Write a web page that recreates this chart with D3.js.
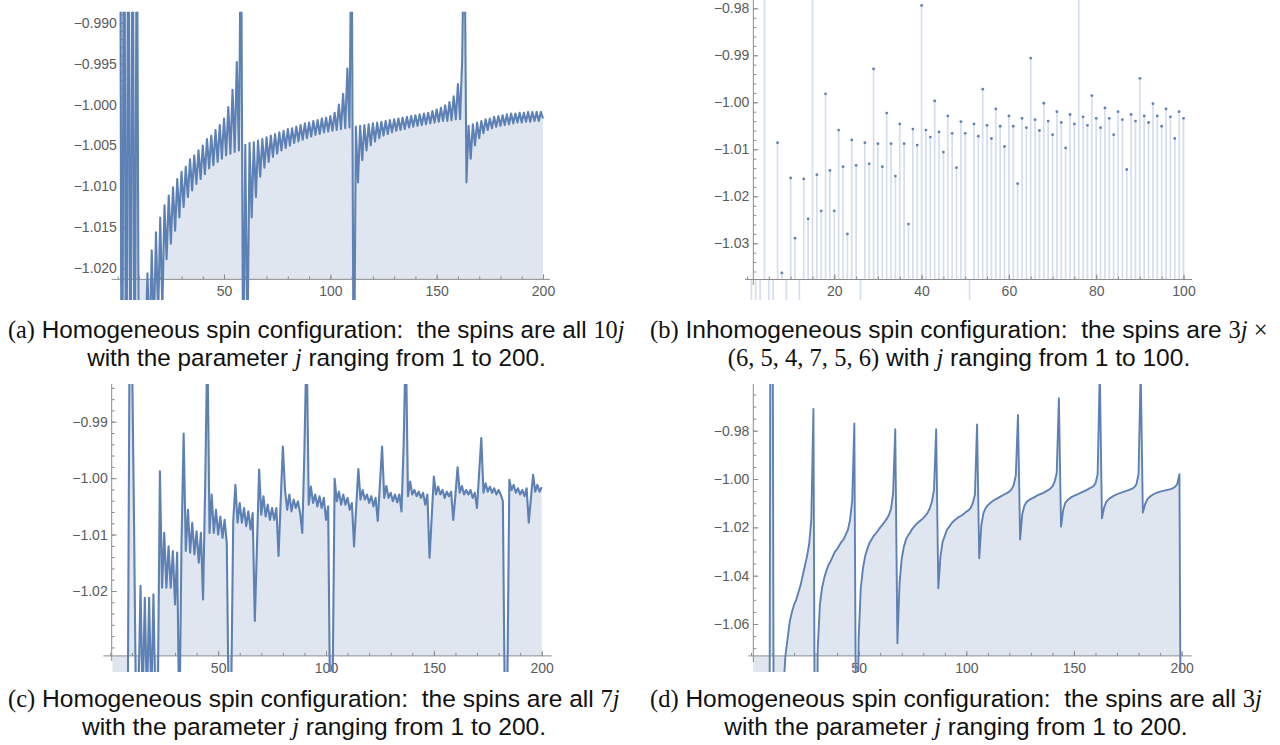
<!DOCTYPE html>
<html lang="en">
<head>
    <meta charset="UTF-8">
    <script src="https://cdnjs.cloudflare.com/ajax/libs/d3/7.8.5/d3.min.js"></script>
    <title>Spin configurations</title>
    <style>
        body { margin: 0; background: #fff; overflow: hidden; }
        svg { display: block; }
    </style>
</head>
<body>
<script>
    // ---- data: value for j = 1..N ----
    var valuesA = [
        -0.95, -1.06, -0.955, -1.055, -0.96, -1.05, -0.965, -1.045, -0.97, -1.04,
        -1.035, -1.032, -1.03, -1.0206, -1.03, -1.0178, -1.028, -1.0156, -1.026, -1.0138,
        -1.025, -1.0123, -1.0189, -1.0111, -1.017, -1.0101, -1.0154, -1.0091, -1.0138, -1.0082,
        -1.0125, -1.0076, -1.0113, -1.0067, -1.0105, -1.0062, -1.0097, -1.0056, -1.0091, -1.005,
        -1.0085, -1.0042, -1.0078, -1.0038, -1.0074, -1.0031, -1.007, -1.0025, -1.0066, -1.0017,
        -1.0062, -1.0003, -1.006, -0.9982, -1.0058, -0.9948, -1.0056, -0.975, -1.035, -1.0049,
        -1.03, -1.0047, -1.0138, -1.0046, -1.0113, -1.0044, -1.0088, -1.0042, -1.0077, -1.004,
        -1.007, -1.0038, -1.0064, -1.0036, -1.006, -1.0034, -1.0056, -1.0032, -1.0053, -1.003,
        -1.005, -1.0029, -1.0047, -1.0027, -1.0045, -1.0025, -1.0043, -1.0023, -1.0041, -1.0022,
        -1.0039, -1.002, -1.0037, -1.0019, -1.0036, -1.0017, -1.0034, -1.0016, -1.0033, -1.0014,
        -1.0032, -1.001, -1.0031, -1.0, -1.003, -0.9987, -1.0029, -0.9956, -1.0028, -0.975,
        -1.04, -1.0027, -1.0095, -1.0026, -1.0068, -1.0025, -1.0056, -1.0024, -1.005, -1.0023,
        -1.0045, -1.0022, -1.0041, -1.0021, -1.0038, -1.002, -1.0036, -1.0019, -1.0034, -1.0018,
        -1.0032, -1.0017, -1.0031, -1.0016, -1.003, -1.0015, -1.0028, -1.0014, -1.0027, -1.0013,
        -1.0026, -1.0012, -1.0025, -1.0011, -1.0024, -1.001, -1.0023, -1.0008, -1.0022, -1.0006,
        -1.0021, -1.0004, -1.002, -1.0001, -1.002, -0.9997, -1.0019, -0.999, -1.0018, -0.9975,
        -1.0018, -0.9945, -0.975, -1.0095, -1.0026, -1.0066, -1.0024, -1.005, -1.0022, -1.0041,
        -1.002, -1.0035, -1.0018, -1.0031, -1.0017, -1.0029, -1.0015, -1.0027, -1.0014, -1.0026,
        -1.0013, -1.0025, -1.0012, -1.0024, -1.0011, -1.0023, -1.0011, -1.0022, -1.001, -1.0022,
        -1.001, -1.0021, -1.0009, -1.0021, -1.0009, -1.002, -1.0009, -1.002, -1.0009, -1.0017
    ];

    var valuesB = [
        -1.06, -1.05, -1.055, -0.95, -1.05, -1.045, -1.0086, -1.0363, -1.045, -1.0161,
        -1.0289, -1.045, -1.0163, -1.0248, -0.95, -1.0154, -1.0231, -0.9982, -1.0145, -1.0231,
        -1.0059, -1.0137, -1.028, -1.008, -1.0134, -1.045, -1.0086, -1.0131, -0.9929, -1.0088,
        -1.0137, -1.0023, -1.0088, -1.0157, -1.0046, -1.0088, -1.0259, -1.0057, -1.0091, -0.9794,
        -1.0059, -1.0074, -0.9997, -1.0063, -1.0106, -1.0029, -1.0066, -1.0139, -1.0041, -1.0066,
        -1.045, -1.0046, -1.0072, -0.9972, -1.0049, -1.0077, -1.0014, -1.0051, -1.0094, -1.0029,
        -1.0051, -1.0173, -1.0034, -1.0054, -0.9906, -1.0037, -1.006, -1.0002, -1.004, -1.0069,
        -1.002, -1.0043, -1.0097, -1.0026, -1.0046, -0.95, -1.0031, -1.0049, -0.9986, -1.0034,
        -1.0054, -1.0012, -1.0034, -1.0069, -1.002, -1.0037, -1.0143, -1.0026, -1.004, -0.9949,
        -1.0029, -1.0043, -1.0003, -1.0029, -1.0051, -1.0014, -1.0031, -1.0077, -1.002, -1.0034
    ];

    var valuesC = [
        -1.05, -1.045, -1.06, -1.04, -1.055, -1.045, -1.06, -1.05, -0.97, -0.975,
        -1.0076, -1.045, -1.04, -1.0191, -1.04, -1.0212, -1.04, -1.0212, -1.04, -1.0206,
        -1.042, -1.04, -0.9988, -1.0194, -1.0097, -1.0194, -1.0121, -1.0194, -1.0129, -1.0224,
        -1.0132, -1.045, -1.012, -0.9921, -1.0129, -1.0056, -1.0132, -1.0079, -1.0135, -1.0094,
        -1.015, -1.0097, -1.0215, -1.001, -0.975, -1.0097, -1.0029, -1.0097, -1.0056, -1.01,
        -1.0068, -1.0106, -1.0074, -1.0115, -1.045, -1.04, -1.0075, -1.0012, -1.0079, -1.0044,
        -1.0079, -1.0053, -1.0085, -1.0059, -1.0091, -1.0062, -1.0253, -1.012, -0.9985, -1.0065,
        -1.0032, -1.0068, -1.0047, -1.0074, -1.0053, -1.0074, -1.0053, -1.0138, -1.004, -0.9944,
        -1.0021, -1.0056, -1.0029, -1.0059, -1.0038, -1.0053, -1.0041, -1.0062, -1.0097, -0.995,
        -0.975, -1.0047, -1.0015, -1.0044, -1.0029, -1.005, -1.0032, -1.0053, -1.0035, -1.0074,
        -1.005, -1.045, -1.04, -1.0001, -1.0041, -1.0024, -1.0047, -1.0029, -1.0047, -1.0035,
        -1.0056, -1.0044, -1.0121, -1.005, -0.9984, -1.0038, -1.0021, -1.0038, -1.0029, -1.0044,
        -1.0032, -1.005, -1.0035, -1.0076, -1.001, -0.9944, -1.0035, -1.0014, -1.0035, -1.0026,
        -1.0041, -1.0029, -1.0043, -1.0029, -1.0059, -0.994, -0.975, -1.0032, -1.0006, -1.0029,
        -1.0021, -1.0032, -1.0024, -1.0035, -1.0026, -1.0047, -1.0029, -1.0141, -1.007, -0.9997,
        -1.0029, -1.0015, -1.0029, -1.0021, -1.0035, -1.0024, -1.0032, -1.0024, -1.0074, -1.003,
        -0.9981, -1.0026, -1.0014, -1.0029, -1.0021, -1.0029, -1.0021, -1.0035, -1.0026, -1.0053,
        -0.999, -0.9929, -1.0026, -1.0009, -1.0024, -1.0015, -1.0026, -1.0018, -1.0029, -1.0021,
        -1.0029, -1.0041, -1.045, -1.04, -1.0003, -1.0021, -1.0012, -1.0026, -1.0018, -1.0029,
        -1.0021, -1.0032, -1.0018, -1.0079, -1.0036, -0.9994, -1.0024, -1.0012, -1.0024, -1.0016
    ];

    var valuesD = [
        -1.12, -1.15, -1.10, -1.18, -1.13, -1.20, -1.25, -1.40, -0.93, -0.90,
        -1.30, -1.16, -1.12, -1.10, -1.088, -1.073, -1.066, -1.059, -1.055, -1.052,
        -1.050, -1.047, -1.044, -1.040, -1.036, -1.032, -1.027, -1.017, -0.971, -1.20,
        -1.070, -1.052, -1.045, -1.041, -1.038, -1.0355, -1.034, -1.032, -1.030, -1.029,
        -1.0275, -1.026, -1.025, -1.023, -1.021, -1.017, -1.009, -0.977, -1.15, -1.066,
        -1.045, -1.037, -1.032, -1.029, -1.0265, -1.025, -1.0235, -1.0225, -1.0213, -1.020,
        -1.019, -1.0178, -1.0165, -1.015, -1.0125, -1.006, -0.9794, -1.068, -1.043, -1.033,
        -1.028, -1.025, -1.0233, -1.022, -1.0205, -1.0195, -1.0185, -1.0177, -1.017, -1.0162,
        -1.0152, -1.014, -1.0122, -1.0095, -1.0045, -0.9794, -1.0452, -1.032, -1.026, -1.0235,
        -1.021, -1.0198, -1.0185, -1.0175, -1.0168, -1.016, -1.0155, -1.015, -1.0143, -1.0135,
        -1.013, -1.012, -1.010, -1.0065, -0.9774, -1.0328, -1.019, -1.014, -1.012, -1.0108,
        -1.010, -1.0093, -1.0087, -1.0082, -1.0077, -1.0072, -1.0067, -1.0062, -1.0057, -1.0052,
        -1.0043, -1.0025, -0.9985, -0.9735, -1.025, -1.0145, -1.011, -1.0095, -1.0088, -1.0082,
        -1.0078, -1.0073, -1.0068, -1.0064, -1.006, -1.0056, -1.0051, -1.0046, -1.004, -1.003,
        -1.0012, -0.9975, -0.9666, -1.0197, -1.0128, -1.0098, -1.0088, -1.008, -1.0074, -1.007,
        -1.0066, -1.0062, -1.0057, -1.0053, -1.0049, -1.0045, -1.004, -1.0035, -1.003, -1.0018,
        -0.998, -0.955, -1.0163, -1.0118, -1.0095, -1.0085, -1.0078, -1.0072, -1.0067, -1.0063,
        -1.0059, -1.0056, -1.0053, -1.005, -1.0047, -1.0044, -1.004, -1.0034, -1.0022, -0.998,
        -0.955, -1.0139, -1.0105, -1.0085, -1.0075, -1.0068, -1.0063, -1.0058, -1.0055, -1.0052,
        -1.005, -1.0048, -1.0046, -1.0044, -1.0042, -1.0038, -1.0032, -1.002, -0.998, -1.20
    ];

    // tick labels
    var xTicksA = [50, 100, 150, 200];
    var yTicksA = [-1.020, -1.015, -1.010, -1.005, -1.000, -0.995, -0.990];
    var xTicksB = [20, 40, 60, 80, 100];
    var yTicksB = [-1.03, -1.02, -1.01, -1.00, -0.99, -0.98];
    var xTicksC = [50, 100, 150, 200];
    var yTicksC = [-1.02, -1.01, -1.00, -0.99];
    var xTicksD = [50, 100, 150, 200];
    var yTicksD = [-1.06, -1.04, -1.02, -1.00, -0.98];

    // captions: [text, style]  s = sans, m = math roman, mi = math italic
    var captionA = [
        [['(a)', 'm'], [' Homogeneous spin configuration:  the spins are all ', 's'], ['10', 'm'], ['j', 'mi']],
        [['with the parameter ', 's'], ['j', 'mi'], [' ranging from 1 to 200.', 's']]
    ];
    var captionB = [
        [['(b)', 'm'], [' Inhomogeneous spin configuration:  the spins are ', 's'], ['3', 'm'], ['j', 'mi'], [' \u00d7', 'm']],
        [['(6, 5, 4, 7, 5, 6)', 'm'], [' with ', 's'], ['j', 'mi'], [' ranging from 1 to 100.', 's']]
    ];
    var captionC = [
        [['(c)', 'm'], [' Homogeneous spin configuration:  the spins are all ', 's'], ['7', 'm'], ['j', 'mi']],
        [['with the parameter ', 's'], ['j', 'mi'], [' ranging from 1 to 200.', 's']]
    ];
    var captionD = [
        [['(d)', 'm'], [' Homogeneous spin configuration:  the spins are all ', 's'], ['3', 'm'], ['j', 'mi']],
        [['with the parameter ', 's'], ['j', 'mi'], [' ranging from 1 to 200.', 's']]
    ];

    // ---- style ----
    var blue = '#5e81b5';
    var fillBlue = 'rgba(94,129,181,0.2)';
    var stemBlue = '#d5deee';
    var axisGray = '#8c8c8c';
    var labelGray = '#5b5b5b';
    var tickFont = '"Liberation Sans", Arial, sans-serif';

    var svg = d3.select('body').append('svg')
                .attr('width', 1280)
                .attr('height', 745);
    var defs = svg.append('defs');

    function minors(from, to, step) {
        var n = Math.round((to - from) / step);
        return d3.range(n + 1).map(function(i){ return +(from + i * step).toFixed(4); });
    }

    var panels = [
        { id: 'a', kind: 'line', values: valuesA, lw: 2.1,
          xDom: [0, 200], xRng: [117.7, 543], yDom: [-1.02, -0.99], yRng: [268.3, 22.7],
          axisY: -1.02135, axisX: 1.5, clip: [110, 11.7, 552, 300],
          xExt: [111.7, 550], yExt: [11.7, 285],
          xMajor: xTicksA, xMinor: minors(0, 200, 10), yMajor: yTicksA, yMinor: minors(-1.021, -0.989, 0.001),
          fmt: d3.format('.3f') },
        { id: 'b', kind: 'stem', values: valuesB,
          xDom: [0, 100], xRng: [747, 1183.5], yDom: [-1.03, -0.98], yRng: [243.3, 8.3],
          axisY: -1.0377, axisX: 1.45, clip: [744, 0, 1195, 300],
          xExt: [745, 1192], yExt: [0, 285],
          xMajor: xTicksB, xMinor: minors(0, 100, 5), yMajor: yTicksB, yMinor: minors(-1.036, -0.978, 0.002),
          fmt: d3.format('.2f') },
        { id: 'c', kind: 'line', values: valuesC, lw: 2.1,
          xDom: [0, 200], xRng: [110.3, 541.7], yDom: [-1.02, -0.99], yRng: [591, 421.7],
          axisY: -1.0315, axisX: 0.65, clip: [103, 384, 553, 672],
          xExt: [103.3, 551.7], yExt: [384, 661],
          xMajor: xTicksC, xMinor: minors(0, 200, 10), yMajor: yTicksC, yMinor: minors(-1.03, -0.984, 0.002),
          fmt: d3.format('.2f') },
        { id: 'd', kind: 'line', values: valuesD, lw: 1.9,
          xDom: [0, 200], xRng: [751, 1181.6], yDom: [-1.06, -0.98], yRng: [624, 430.7],
          axisY: -1.0732, axisX: 1.07, clip: [745, 384, 1195, 672],
          xExt: [748.3, 1191.7], yExt: [384, 662],
          xMajor: xTicksD, xMinor: minors(0, 200, 10), yMajor: yTicksD, yMinor: minors(-1.07, -0.96, 0.005),
          fmt: d3.format('.2f') }
    ];

    function styleAxis(sel) {
        sel.select('.domain').remove();
        sel.selectAll('.tick line').attr('stroke', axisGray).attr('stroke-width', 1);
        sel.selectAll('.tick text').attr('fill', labelGray)
           .attr('font-family', tickFont).attr('font-size', 14);
        sel.attr('font-family', null).attr('font-size', null);
    }

    panels.forEach(function(p) {
        var x = d3.scaleLinear().domain(p.xDom).range(p.xRng);
        var y = d3.scaleLinear().domain(p.yDom).range(p.yRng);
        var pts = p.values.map(function(v, i){ return { j: i + 1, v: v }; });
        var y0 = y(p.axisY);
        var xa = x(p.axisX);

        defs.append('clipPath').attr('id', 'clip-' + p.id)
            .append('rect')
            .attr('x', p.clip[0]).attr('y', p.clip[1])
            .attr('width', p.clip[2] - p.clip[0]).attr('height', p.clip[3] - p.clip[1]);

        var g = svg.append('g');
        var under = g.append('g').attr('clip-path', 'url(#clip-' + p.id + ')');

        if (p.kind === 'line') {
            under.append('path').datum(pts)
                 .attr('d', d3.area().x(function(d){ return x(d.j); }).y0(y0).y1(function(d){ return y(d.v); }))
                 .attr('fill', fillBlue);
        } else {
            under.selectAll('line').data(pts).enter()
                 .append('line')
                 .attr('x1', function(d){ return x(d.j); })
                 .attr('x2', function(d){ return x(d.j); })
                 .attr('y1', y0)
                 .attr('y2', function(d){ return y(d.v); })
                 .attr('stroke', stemBlue)
                 .attr('stroke-width', 1.7);
        }

        // axes
        var ax = g.append('g');
        ax.append('line').attr('x1', p.xExt[0]).attr('x2', p.xExt[1]).attr('y1', y0).attr('y2', y0)
          .attr('stroke', axisGray).attr('stroke-width', 1);
        ax.append('line').attr('x1', xa).attr('x2', xa).attr('y1', p.yExt[0]).attr('y2', p.yExt[1])
          .attr('stroke', axisGray).attr('stroke-width', 1);

        ax.append('g').attr('transform', 'translate(0,' + y0 + ')')
          .call(d3.axisBottom(x).tickValues(p.xMinor).tickSize(-3).tickFormat(''))
          .call(styleAxis);
        ax.append('g').attr('transform', 'translate(0,' + y0 + ')')
          .call(d3.axisBottom(x).tickValues(p.xMajor).tickSize(-5).tickPadding(7).tickFormat(d3.format('d')))
          .call(styleAxis);

        var yMin = p.yMinor.filter(function(v){ var py = y(v); return py >= p.yExt[0] && py <= p.yExt[1] - 4; });
        ax.append('g').attr('transform', 'translate(' + xa + ',0)')
          .call(d3.axisLeft(y).tickValues(yMin).tickSize(-3).tickFormat(''))
          .call(styleAxis);
        ax.append('g').attr('transform', 'translate(' + xa + ',0)')
          .call(d3.axisLeft(y).tickValues(p.yMajor).tickSize(-5).tickPadding(4).tickFormat(p.fmt))
          .call(styleAxis);

        var over = g.append('g').attr('clip-path', 'url(#clip-' + p.id + ')');
        if (p.kind === 'line') {
            over.append('path').datum(pts)
                .attr('d', d3.line().x(function(d){ return x(d.j); }).y(function(d){ return y(d.v); }))
                .attr('fill', 'none')
                .attr('stroke', blue)
                .attr('stroke-width', p.lw)
                .attr('stroke-linejoin', 'round');
        } else {
            over.selectAll('circle').data(pts).enter()
                .append('circle')
                .attr('cx', function(d){ return x(d.j); })
                .attr('cy', function(d){ return y(d.v); })
                .attr('r', 1.4)
                .attr('fill', blue);
        }
    });

    // ---- captions ----
    var fonts = {
        s:  { family: '"Liberation Sans", Arial, sans-serif', style: 'normal' },
        m:  { family: '"Liberation Serif", "DejaVu Serif", serif', style: 'normal' },
        mi: { family: '"Liberation Serif", "DejaVu Serif", serif', style: 'italic' }
    };
    var captionBoxes = [
        { lines: captionA, left: 8,   right: 625,  base: [338, 366] },
        { lines: captionB, left: 650, right: 1268, base: [338, 366] },
        { lines: captionC, left: 8,   right: 620,  base: [707, 735] },
        { lines: captionD, left: 650, right: 1262, base: [707, 735] }
    ];

    captionBoxes.forEach(function(c) {
        var texts = c.lines.map(function(parts, k) {
            var t = svg.append('text')
                       .attr('y', c.base[k])
                       .attr('fill', '#111')
                       .attr('font-size', 21)
                       .style('white-space', 'pre');
            parts.forEach(function(pt) {
                t.append('tspan')
                 .attr('font-family', fonts[pt[1]].family)
                 .attr('font-style', fonts[pt[1]].style)
                 .text(pt[0]);
            });
            return t;
        });
        var w = texts[0].node().getComputedTextLength();
        var fs = 21 * (c.right - c.left) / w;
        var cx = (c.left + c.right) / 2;
        texts[0].attr('font-size', fs).attr('x', c.left).attr('text-anchor', 'start');
        texts[1].attr('font-size', fs).attr('x', cx).attr('text-anchor', 'middle');
    });
</script>
</body>
</html>
